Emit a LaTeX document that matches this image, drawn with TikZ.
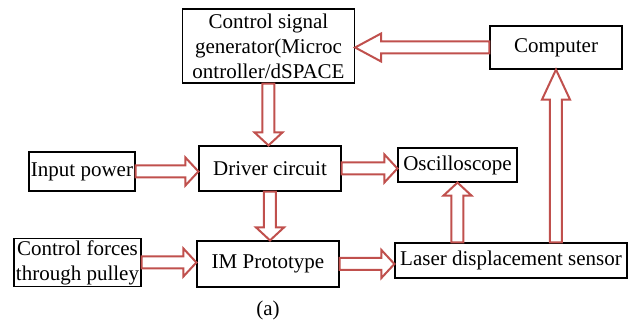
\documentclass[tikz,border=0pt]{standalone}
\usepackage{fontspec}
\setmainfont{Liberation Serif}
\usepackage{xcolor}
\usepackage{tikz}
\usetikzlibrary{calc}

\definecolor{arrowred}{RGB}{192,80,77}

\begin{document}
\begin{tikzpicture}[
    x=0.5pt, y=-0.5pt,
    font=\fontsize{10.5}{12.5}\selectfont,
    box/.style={draw, line width=0.6pt, rectangle, inner sep=1pt, align=center},
    blockarrow/.style={draw=arrowred, fill=white, line width=1pt, line join=miter,
        to path={let \p1=(\tikztostart), \p2=(\tikztotarget), \p3=($(\p2)!#1!(\p1)$) in
            ($(\p1)!3pt!90:(\p2)$) -- ($(\p3)!3pt!90:(\p2)$) -- ($(\p3)!7pt!90:(\p2)$) -- (\p2)
            -- ($(\p3)!7pt!-90:(\p2)$) -- ($(\p3)!3pt!-90:(\p2)$) -- ($(\p1)!3pt!-90:(\p2)$) -- cycle}},
    blockarrow/.default=6.5pt
]
    \useasboundingbox (0,0) rectangle (634,324);

    \node[box, minimum width=86pt, minimum height=37pt] (ctrl) at (268.5,46) {Control signal\\generator(Microc\\ontroller/dSPACE};
    \node[box, minimum width=66pt, minimum height=21.5pt] (computer) at (556,47.5) {Computer};

    \node[box, minimum width=53pt, minimum height=19.5pt] (input) at (82,171.5) {Input power};
    \node[box, minimum width=71pt, minimum height=22.5pt] (driver) at (270,168.5) {Driver circuit};
    \node[box, minimum width=59.5pt, minimum height=17pt] (osc) at (457.5,165) {Oscilloscope};

    \node[box, minimum width=63.5pt, minimum height=23.5pt] (forces) at (77.5,262.5) {Control forces\\through pulley};
    \node[box, minimum width=71pt, minimum height=23pt] (proto) at (268,264) {IM Prototype};
    \node[box, minimum width=116pt, minimum height=17.5pt] (laser) at (511,260.5) {Laser displacement sensor};

    \node (caption) at (268,310) {(a)};

    \draw[blockarrow=13pt] (computer.west) to (computer.west -| ctrl.east);
    \draw[blockarrow] (ctrl.south) to (ctrl.south |- driver.north);
    \draw[blockarrow] (input.east) to (input.east -| driver.west);
    \draw[blockarrow] (driver.south) to (driver.south |- proto.north);
    \draw[blockarrow] (forces.east) to (forces.east -| proto.west);
    \draw[blockarrow] (driver.east) to (driver.east -| osc.west);
    \draw[blockarrow] (proto.east) to (proto.east -| laser.west);
    \draw[blockarrow] (osc.south |- laser.north) to (osc.south);
    \draw[blockarrow=15pt] (computer.south |- laser.north) to (computer.south);

\end{tikzpicture}
\end{document}
